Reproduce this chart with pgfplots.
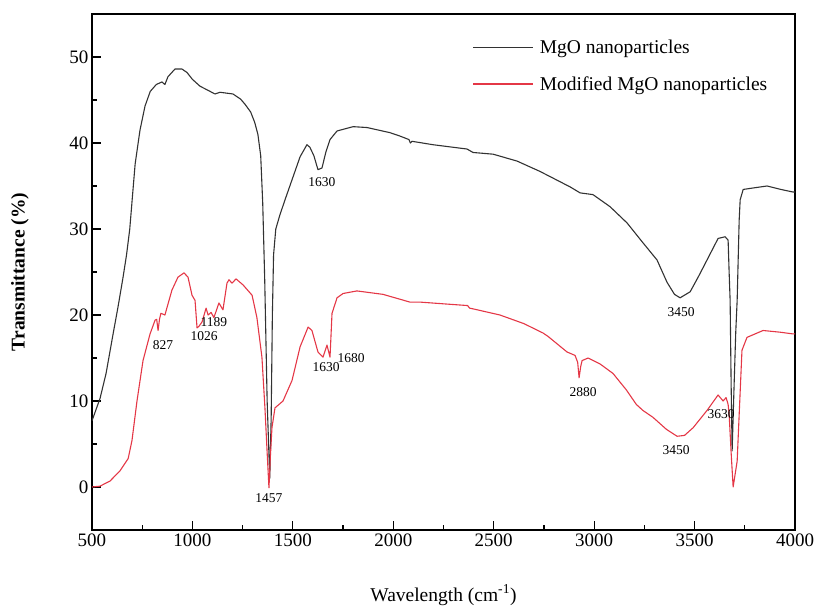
\documentclass[border=0pt]{standalone}
\usepackage{pgfplots}
\pgfplotsset{compat=1.18}
\usepackage{fontspec}
\setmainfont{Liberation Serif}
\definecolor{curvered}{RGB}{228,55,70}
\definecolor{curveblack}{RGB}{50,50,50}
\begin{document}
\begin{tikzpicture}
\useasboundingbox (0,0) rectangle (816pt,606pt);
\begin{axis}[
    at={(92pt,76pt)}, anchor=south west,
    scale only axis,
    width=703pt, height=516pt,
    xmin=500, xmax=4000,
    ymin=-5, ymax=55,
    xtick={500,1000,...,4000},
    ytick={0,10,...,50},
    minor tick num=1,
    xtick pos=bottom, ytick pos=left,
    tick align=inside,
    major tick length=9pt, minor tick length=5pt,
    every tick/.style={black, line width=1.2pt},
    axis line style={line width=1.4pt},
    /pgf/number format/assume math mode=true,
    /pgf/number format/1000 sep={},
    tick label style={font=\fontsize{19}{22}\selectfont},
    xlabel={Wavelength (cm\textsuperscript{-1})},
    ylabel={\textbf{Transmittance (\%)}},
    label style={font=\fontsize{19.5}{23}\selectfont},
    xlabel style={at={(axis description cs:0.5,-0.126)}, anchor=center},
    ylabel style={at={(axis description cs:-0.1024,0.5)}, anchor=center},
    legend style={at={(rel axis cs:0.537,0.957)}, anchor=north west, draw=none, fill=none,
        font=\fontsize{19.5}{23}\selectfont, row sep=17pt, column sep=4pt, legend cell align=left},
    legend image code/.code={\draw[#1] (0pt,0pt) -- (60pt,0pt);},
    every axis plot/.append style={line width=1.1pt, line join=round},
]

% MgO nanoparticles
\addplot[curveblack] coordinates {
(500,7.7) (540,10.3) (570,13.2) (605,17.8) (630,21.0) (654,24.3) (672,27.0) (688,30.0)
(700,33.4) (715,37.6) (739,41.5) (764,44.3) (790,46.0) (820,46.8) (848,47.1) (863,46.8) (878,47.7)
(913,48.6) (948,48.6) (973,48.2) (1000,47.4) (1038,46.6) (1080,46.1) (1112,45.7) (1137,45.9)
(1202,45.7) (1240,45.1) (1262,44.5) (1290,43.6) (1310,42.4) (1326,41.0) (1340,38.5) (1350,33.0) (1360,24.0)
(1372,10.0) (1385,1.0) (1392,8.0) (1398,20.0) (1404,27.0) (1415,30.0) (1435,31.6) (1461,33.4)
(1500,36.0) (1536,38.4) (1570,39.8) (1585,39.5) (1605,38.5) (1625,36.9) (1645,37.1) (1665,39.0)
(1685,40.4) (1720,41.4) (1800,41.9) (1869,41.8) (1984,41.2) (2034,40.8) (2078,40.4) (2085,40.0)
(2093,40.2) (2198,39.8) (2367,39.3) (2397,38.9) (2497,38.7) (2616,37.9) (2730,36.7) (2830,35.5)
(2880,34.9) (2930,34.2) (2994,34.0) (3079,32.6) (3164,30.7) (3243,28.4) (3313,26.4) (3363,23.8)
(3400,22.4) (3428,22.0) (3478,22.7) (3520,24.5) (3562,26.4) (3617,28.9) (3652,29.1) (3667,28.7)
(3672,25.0) (3677,21.7) (3682,12.0) (3687,4.2) (3697,12.0) (3705,18.0) (3712,21.7) (3722,31.0)
(3727,33.4) (3742,34.6) (3800,34.8) (3861,35.0) (3930,34.6) (3990,34.3) (4000,34.3)
};
\addlegendentry{MgO nanoparticles}

% Modified MgO nanoparticles
\addplot[curvered] coordinates {
(500,0.0) (540,0.1) (590,0.7) (640,1.9) (680,3.3) (699,5.4) (724,10.0) (754,14.7)
(789,17.8) (814,19.4) (822,19.5) (829,18.2) (836,19.5) (843,20.2) (863,20.0) (898,22.9)
(928,24.4) (958,24.9) (978,24.4) (998,22.3) (1013,21.7) (1023,18.5) (1033,18.7) (1048,19.2)
(1068,20.8) (1078,20.0) (1093,20.3) (1107,19.7) (1132,21.4) (1152,20.6) (1172,23.7) (1182,24.1)
(1197,23.7) (1217,24.2) (1252,23.5) (1297,22.3) (1321,19.7) (1346,15.1) (1361,9.2) (1372,4.0)
(1381,-0.1) (1388,3.5) (1396,6.9) (1411,9.2) (1451,10.0) (1496,12.4) (1536,16.3) (1576,18.6)
(1595,18.2) (1625,15.7) (1650,15.1) (1670,16.5) (1685,15.1) (1695,20.2) (1720,22.0) (1750,22.5)
(1819,22.8) (1949,22.4) (2083,21.5) (2133,21.5) (2250,21.3) (2370,21.1) (2380,20.8) (2400,20.7)
(2531,20.0) (2650,19.0) (2746,17.9) (2771,17.5) (2865,15.7) (2905,15.3) (2918,14.5) (2925,12.7)
(2933,14.0) (2940,14.7) (2970,15.0) (3030,14.3) (3094,13.2) (3160,11.3) (3210,9.6) (3243,8.9)
(3293,8.1) (3360,6.7) (3413,5.9) (3450,6.0) (3493,6.9) (3562,8.9) (3617,10.7) (3642,10.0)
(3657,10.4) (3667,9.6) (3672,8.5) (3682,4.0)
(3692,0.0) (3702,1.5) (3712,3.0) (3725,10.0) (3736,15.9) (3761,17.4) (3841,18.2) (3926,18.0)
(3990,17.8) (4000,17.8)
};
\addlegendentry{Modified MgO nanoparticles}

% peak labels
\begin{scope}[every node/.style={font=\fontsize{13.5}{16}\selectfont, inner sep=0pt}]
\node at (axis cs:1645,35.4) {1630};
\node at (axis cs:854,16.5) {827};
\node at (axis cs:1058,17.6) {1026};
\node at (axis cs:1107,19.2) {1189};
\node at (axis cs:1381,-1.3) {1457};
\node at (axis cs:1665,13.9) {1630};
\node at (axis cs:1790,15.0) {1680};
\node at (axis cs:2945,11.0) {2880};
\node at (axis cs:3433,20.3) {3450};
\node at (axis cs:3408,4.3) {3450};
\node at (axis cs:3632,8.5) {3630};
\end{scope}
\end{axis}
\end{tikzpicture}
\end{document}
